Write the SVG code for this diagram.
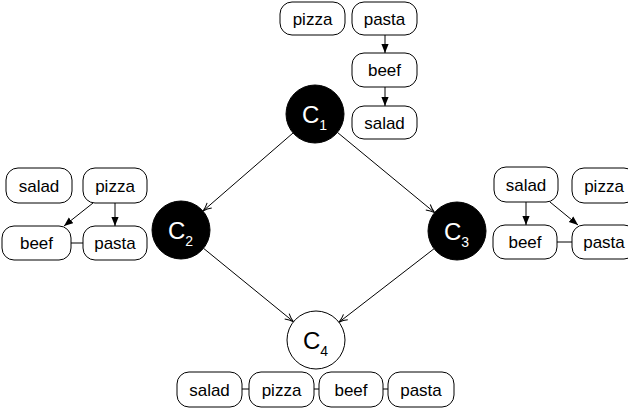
<svg xmlns="http://www.w3.org/2000/svg" width="628" height="411" viewBox="0 0 628 411">
<defs>
<style>
.box{fill:#fff;stroke:#000;stroke-width:1}
.bt{font-family:"Liberation Sans",Arial,sans-serif;font-size:17px;text-anchor:middle;fill:#000}
.ct{font-family:"Liberation Sans",Arial,sans-serif;font-size:24px}
.e{stroke:#000;stroke-width:1;fill:none}
</style>
<marker id="open" viewBox="0 0 10 10" refX="9.5" refY="5" markerWidth="10" markerHeight="10" orient="auto" markerUnits="userSpaceOnUse">
<path d="M1,1.5 Q5,4 9.5,5 Q5,6 1,8.5" fill="none" stroke="#000" stroke-width="1"/>
</marker>
<marker id="fill" viewBox="0 0 10 10" refX="10" refY="5" markerWidth="9" markerHeight="9" orient="auto" markerUnits="userSpaceOnUse">
<path d="M0,1 L10,5 L0,9 Z" fill="#000"/>
</marker>
</defs>
<rect width="628" height="411" fill="#fff"/>
<g id="connectors">
<line class="e" x1="293" y1="133" x2="203" y2="211" marker-end="url(#open)"/>
<line class="e" x1="337.4" y1="132.4" x2="434.6" y2="212.6" marker-end="url(#open)"/>
<line class="e" x1="203.5" y1="248.3" x2="293.5" y2="321.7" marker-end="url(#open)"/>
<line class="e" x1="434.1" y1="248.7" x2="338.9" y2="322.3" marker-end="url(#open)"/>
<line class="e" x1="385" y1="35" x2="385" y2="53" marker-end="url(#fill)"/>
<line class="e" x1="385" y1="87" x2="385" y2="106" marker-end="url(#fill)"/>
<line class="e" x1="93" y1="203" x2="64" y2="226" marker-end="url(#fill)"/>
<line class="e" x1="115" y1="203" x2="115" y2="226" marker-end="url(#fill)"/>
<line class="e" x1="71" y1="243" x2="83" y2="243"/>
<line class="e" x1="526" y1="202" x2="526" y2="225" marker-end="url(#fill)"/>
<line class="e" x1="550" y1="202" x2="578" y2="225" marker-end="url(#fill)"/>
<line class="e" x1="557" y1="242" x2="572" y2="242"/>
<line class="e" x1="242" y1="389" x2="249" y2="389"/>
<line class="e" x1="314" y1="389" x2="319" y2="389"/>
<line class="e" x1="383" y1="389" x2="388" y2="389"/>
</g>
<g id="c1"><circle cx="315" cy="114" r="29" fill="#000" stroke="#000"/><text class="ct" x="302" y="123" fill="#fff">C<tspan font-size="14" dy="7">1</tspan></text></g>
<g id="c2"><circle cx="181" cy="230" r="29" fill="#000" stroke="#000"/><text class="ct" x="168" y="239" fill="#fff">C<tspan font-size="14" dy="7">2</tspan></text></g>
<g id="c3"><circle cx="457" cy="231" r="29" fill="#000" stroke="#000"/><text class="ct" x="444" y="240" fill="#fff">C<tspan font-size="14" dy="7">3</tspan></text></g>
<g id="c4"><circle cx="316" cy="340" r="29" fill="#fff" stroke="#000"/><text class="ct" x="303" y="349" fill="#000">C<tspan font-size="14" dy="7">4</tspan></text></g>
<g id="top-pizza"><rect class="box" x="280" y="2" width="65" height="33" rx="12"/><text class="bt" x="312.5" y="25">pizza</text></g>
<g id="top-pasta"><rect class="box" x="352" y="2" width="65" height="33" rx="12"/><text class="bt" x="384.5" y="25">pasta</text></g>
<g id="top-beef"><rect class="box" x="352" y="53" width="65" height="34" rx="12"/><text class="bt" x="384.5" y="76">beef</text></g>
<g id="top-salad"><rect class="box" x="352" y="106" width="65" height="33" rx="12"/><text class="bt" x="384.5" y="129">salad</text></g>
<g id="left-salad"><rect class="box" x="6" y="168" width="66" height="35" rx="12"/><text class="bt" x="39" y="192">salad</text></g>
<g id="left-pizza"><rect class="box" x="83" y="168" width="64" height="35" rx="12"/><text class="bt" x="115" y="192">pizza</text></g>
<g id="left-beef"><rect class="box" x="2" y="226" width="69" height="34" rx="12"/><text class="bt" x="36.5" y="249">beef</text></g>
<g id="left-pasta"><rect class="box" x="83" y="226" width="64" height="34" rx="12"/><text class="bt" x="115" y="249">pasta</text></g>
<g id="right-salad"><rect class="box" x="494" y="167" width="64" height="35" rx="12"/><text class="bt" x="526" y="191">salad</text></g>
<g id="right-pizza"><rect class="box" x="572" y="168" width="64" height="35" rx="12"/><text class="bt" x="604" y="192">pizza</text></g>
<g id="right-beef"><rect class="box" x="493" y="225" width="64" height="34" rx="12"/><text class="bt" x="525" y="248">beef</text></g>
<g id="right-pasta"><rect class="box" x="572" y="225" width="64" height="34" rx="12"/><text class="bt" x="604" y="248">pasta</text></g>
<g id="bot-salad"><rect class="box" x="177" y="372" width="65" height="35" rx="12"/><text class="bt" x="209.5" y="396">salad</text></g>
<g id="bot-pizza"><rect class="box" x="249" y="372" width="65" height="35" rx="12"/><text class="bt" x="281.5" y="396">pizza</text></g>
<g id="bot-beef"><rect class="box" x="319" y="372" width="64" height="35" rx="12"/><text class="bt" x="351" y="396">beef</text></g>
<g id="bot-pasta"><rect class="box" x="388" y="372" width="66" height="35" rx="12"/><text class="bt" x="421" y="396">pasta</text></g>
</svg>
